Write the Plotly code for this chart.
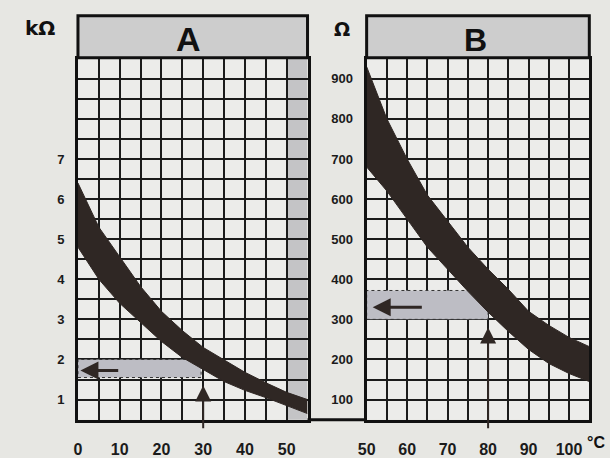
import plotly.graph_objects as go

# ---- data ----
temp_a = [0, 5, 10, 15, 20, 25, 30, 35, 40, 45, 50, 55]
r_a_upper = [6.4, 5.3, 4.56, 3.82, 3.2, 2.72, 2.3, 2.0, 1.68, 1.42, 1.18, 1.0]
r_a_lower = [4.8, 4.0, 3.4, 2.92, 2.45, 2.05, 1.75, 1.45, 1.23, 1.05, 0.85, 0.65]

temp_b = [50, 55, 60, 65, 70, 75, 80, 85, 90, 95, 100, 105]
r_b_upper = [930, 800, 700, 610, 545, 480, 425, 375, 320, 285, 255, 232]
r_b_lower = [680, 620, 550, 480, 425, 370, 318, 270, 225, 190, 165, 145]

xticks_a = [0, 10, 20, 30, 40, 50]
yticks_a = [1, 2, 3, 4, 5, 6, 7]
xticks_b = [50, 60, 70, 80, 90, 100]
yticks_b = [100, 200, 300, 400, 500, 600, 700, 800, 900]

read_a_temp, read_a_band = 30, (1.55, 2.0)
read_b_temp, read_b_band = 80, (300, 372)

BG = "#e7e7e3"
PLOT_BG = "#ececea"
INK = "#1b1b1b"
BAND = "#2f2724"
SHADE = "#c4c4c6"
FAM = "Liberation Sans, Arial, sans-serif"
YFONT = dict(family=FAM, size=13, color=INK, weight="bold")
XFONT = dict(family=FAM, size=16, color=INK, weight="bold")

fig = go.Figure()

# band A
fig.add_trace(go.Scatter(x=temp_a, y=r_a_upper, mode="lines", line=dict(width=1, color=BAND),
                         xaxis="x", yaxis="y", showlegend=False, hoverinfo="skip"))
fig.add_trace(go.Scatter(x=temp_a, y=r_a_lower, mode="lines", line=dict(width=1, color=BAND),
                         fill="tonexty", fillcolor=BAND,
                         xaxis="x", yaxis="y", showlegend=False, hoverinfo="skip"))
# band B
fig.add_trace(go.Scatter(x=temp_b, y=r_b_upper, mode="lines", line=dict(width=1, color=BAND),
                         xaxis="x2", yaxis="y2", showlegend=False, hoverinfo="skip"))
fig.add_trace(go.Scatter(x=temp_b, y=r_b_lower, mode="lines", line=dict(width=1, color=BAND),
                         fill="tonexty", fillcolor=BAND,
                         xaxis="x2", yaxis="y2", showlegend=False, hoverinfo="skip"))

ydom = [1 - 429 / 458, 1 - 60 / 458]
grid = dict(showgrid=True, gridcolor=INK, gridwidth=2, zeroline=False,
            showline=True, mirror=True, linewidth=3, linecolor="#111",
            ticks="", fixedrange=True)

fig.update_layout(
    width=610, height=458,
    margin=dict(l=0, r=0, t=0, b=0),
    paper_bgcolor=BG, plot_bgcolor=PLOT_BG,
    showlegend=False,
    xaxis=dict(domain=[70 / 610, 303 / 610], range=[0, 55], anchor="y",
               tickmode="array", tickvals=xticks_a, ticktext=[str(v) for v in xticks_a],
               minor=dict(dtick=5, tick0=0, showgrid=True, gridcolor=INK, gridwidth=2),
               ticklabelstandoff=13, tickfont=XFONT, **grid),
    yaxis=dict(domain=ydom, range=[0.5, 9.5], anchor="x",
               tickmode="array", tickvals=yticks_a, ticktext=[str(v) for v in yticks_a],
               minor=dict(dtick=0.5, tick0=0.5, showgrid=True, gridcolor=INK, gridwidth=2),
               ticklabelstandoff=8, tickfont=YFONT, **grid),
    xaxis2=dict(domain=[363 / 610, 589 / 610], range=[50, 105], anchor="y2",
                tickmode="array", tickvals=xticks_b, ticktext=[str(v) for v in xticks_b],
                minor=dict(dtick=5, tick0=50, showgrid=True, gridcolor=INK, gridwidth=2),
                ticklabelstandoff=13, tickfont=XFONT, **grid),
    yaxis2=dict(domain=ydom, range=[50, 950], anchor="x2",
                tickmode="array", tickvals=yticks_b, ticktext=[str(v) for v in yticks_b],
                minor=dict(dtick=50, tick0=50, showgrid=True, gridcolor=INK, gridwidth=2),
                ticklabelstandoff=8, tickfont=YFONT, **grid),
)

shapes = []
# shaded last column of A
shapes.append(dict(type="rect", xref="x", yref="y domain", x0=50, x1=55, y0=0, y1=1,
                   fillcolor=SHADE, line=dict(width=0), layer="below"))
# reading strips
shapes.append(dict(type="rect", xref="x", yref="y", x0=temp_a[0], x1=read_a_temp - 0.5,
                   y0=read_a_band[0], y1=read_a_band[1],
                   fillcolor="#bdbdc4", line=dict(width=1, color="#333", dash="dot"), layer="between"))
shapes.append(dict(type="rect", xref="x2", yref="y2", x0=temp_b[0], x1=read_b_temp,
                   y0=read_b_band[0], y1=read_b_band[1],
                   fillcolor="#bdbdc4", line=dict(width=1, color="#333", dash="dot"), layer="between"))
# headers
for xr in ["x domain", "x2 domain"]:
    shapes.append(dict(type="rect", xref=xr, yref="paper", x0=0, x1=1,
                       y0=1 - 59 / 458, y1=1 - 16 / 458,
                       fillcolor="#cdcdcd", line=dict(width=3, color="#111")))
# bottom line joining both panels
shapes.append(dict(type="line", xref="paper", yref="paper", x0=303 / 610, x1=363 / 610,
                   y0=1 - 429 / 458, y1=1 - 429 / 458, line=dict(width=3, color="#111")))
fig.update_layout(shapes=shapes)

ann = []
def label(text, x, y, size, xref="paper", fam=FAM):
    return dict(text=text, xref=xref, yref="paper", x=x, y=y, xanchor="center", yanchor="middle",
                showarrow=False, font=dict(family=fam, size=size, color="#111", weight="bold"))
ann.append(label("A", 0.48, 1 - 40 / 458, 34, "x domain"))
ann.append(label("B", 0.49, 1 - 41 / 458, 32, "x2 domain"))
ann.append(label("kΩ", 31 / 610, 1 - 29 / 458, 20, fam="DejaVu Sans, sans-serif"))
ann.append(label("Ω", 338 / 610, 1 - 30 / 458, 19, fam="DejaVu Sans, sans-serif"))
ann.append(label("°C", 596 / 610, 1 - 452 / 458, 16))
# arrows A
ann.append(dict(text="", xref="x", yref="y", axref="x", ayref="y",
                x=0.6, y=sum(read_a_band) / 2 - 0.05, ax=10, ay=sum(read_a_band) / 2 - 0.05,
                showarrow=True, arrowhead=2, arrowsize=1.2, arrowwidth=3, arrowcolor=BAND))
ann.append(dict(text="", xref="x", yref="y", axref="x", ayref="y",
                x=read_a_temp, y=1.35, ax=read_a_temp, ay=0.25,
                showarrow=True, arrowhead=2, arrowsize=1.6, arrowwidth=2, arrowcolor=BAND))
# arrows B
ann.append(dict(text="", xref="x2", yref="y2", axref="x2", ayref="y2",
                x=51.5, y=330, ax=64, ay=330,
                showarrow=True, arrowhead=2, arrowsize=1.2, arrowwidth=3, arrowcolor=BAND))
ann.append(dict(text="", xref="x2", yref="y2", axref="x2", ayref="y2",
                x=read_b_temp, y=280, ax=read_b_temp, ay=25,
                showarrow=True, arrowhead=2, arrowsize=1.6, arrowwidth=2, arrowcolor=BAND))
fig.update_layout(annotations=ann)

fig.write_html("out.html", config={"displayModeBar": False},
               post_script="document.body.style.margin='0';document.body.style.background='%s';" % BG)
